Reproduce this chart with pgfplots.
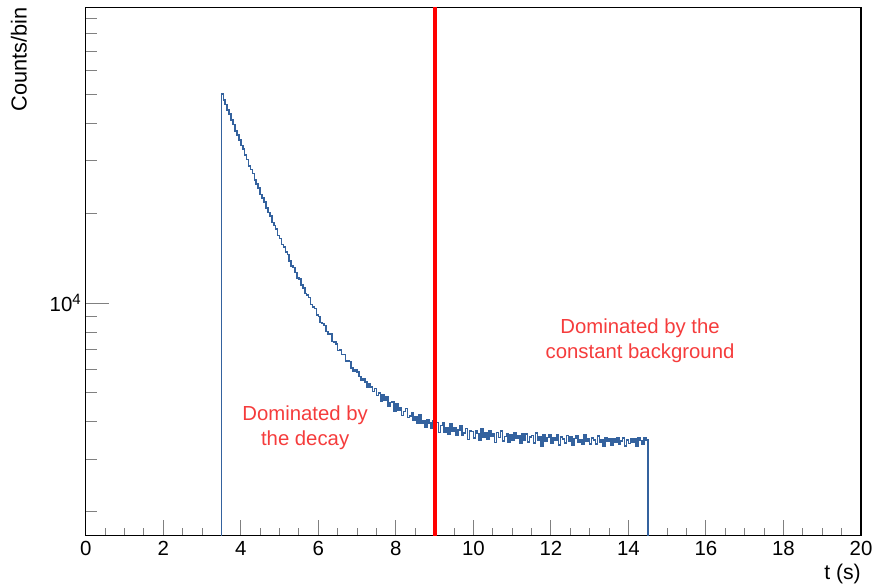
\documentclass[border=0pt]{standalone}
\usepackage{fontspec}
\setmainfont{Liberation Sans}
\usepackage{pgfplots}
\pgfplotsset{compat=1.18}
\definecolor{histblue}{RGB}{52,98,158}
\definecolor{txtred}{RGB}{245,60,60}
\begin{document}
\begin{tikzpicture}
\begin{axis}[
  name=ax,
  scale only axis,
  width=775bp, height=528bp,
  font=\fontsize{20.5}{24}\selectfont,
  /pgf/number format/assume math mode=true,
  xmin=0, xmax=20,
  ymode=log, ymin=1662, ymax=97900,
  xtick={0,2,...,20},
  minor x tick num=3,
  ytick={10000},
  yticklabels={10\textsuperscript{\fontsize{15}{15}\selectfont 4}},
  minor ytick={2000,3000,4000,5000,6000,7000,8000,9000,20000,30000,40000,50000,60000,70000,80000,90000},
  tick pos=left,
  tick align=inside,
  xtick style={/pgfplots/major tick length=16bp,/pgfplots/minor tick length=7.5bp, line width=0.9bp},
  ytick style={/pgfplots/major tick length=23bp,/pgfplots/minor tick length=11.7bp, line width=0.9bp},
  axis line style={line width=1.2bp},
  xticklabel style={yshift=-2bp},
  yticklabel style={xshift=-1bp},
  clip=true,
]
\addplot[const plot, color=histblue, line width=1.6bp] table {
x y
3.50 1000
3.50 50224
3.55 47875
3.60 46307
3.65 44357
3.70 43043
3.75 41060
3.80 39705
3.85 37697
3.90 36651
3.95 35207
4.00 33701
4.05 32780
4.10 31321
4.15 30304
4.20 28845
4.25 28049
4.30 27197
4.35 25883
4.40 25040
4.45 24287
4.50 23142
4.55 22503
4.60 21848
4.65 20797
4.70 20147
4.75 19598
4.80 18608
4.85 18227
4.90 17702
4.95 16873
5.00 16449
5.05 15718
5.10 15450
5.15 14813
5.20 14537
5.25 13821
5.30 13325
5.35 13156
5.40 12675
5.45 12141
5.50 12043
5.55 11490
5.60 11242
5.65 10768
5.70 10668
5.75 10430
5.80 9886
5.85 9683
5.90 9581
5.95 9140
6.00 9030
6.05 8610
6.10 8539
6.15 8418
6.20 8026
6.25 7892
6.30 7866
6.35 7438
6.40 7417
6.45 7304
6.50 6938
6.55 6958
6.60 6734
6.65 6726
6.70 6404
6.75 6388
6.80 6376
6.85 6060
6.90 5909
6.95 5972
7.00 5890
7.05 5672
7.10 5518
7.15 5598
7.20 5452
7.25 5240
7.30 5371
7.35 5245
7.40 5052
7.45 5173
7.50 4906
7.55 4992
7.60 4706
7.65 4932
7.70 4726
7.75 4852
7.80 4516
7.85 4646
7.90 4659
7.95 4329
8.00 4600
8.05 4378
8.10 4473
8.15 4195
8.20 4339
8.25 4439
8.30 4135
8.35 4193
8.40 4297
8.45 4057
8.50 4164
8.55 3957
8.60 4216
8.65 3966
8.70 4047
8.75 3829
8.80 4077
8.85 3966
8.90 3811
8.95 4047
9.00 3826
9.05 3978
9.10 3689
9.15 3894
9.20 3963
9.25 3693
9.30 3815
9.35 3631
9.40 3941
9.45 3725
9.50 3831
9.55 3598
9.60 3757
9.65 3866
9.70 3601
9.75 3676
9.80 3803
9.85 3488
9.90 3734
9.95 3709
10.00 3531
10.05 3744
10.10 3652
10.15 3475
10.20 3792
10.25 3564
10.30 3677
10.35 3501
10.40 3734
10.45 3576
10.50 3639
10.55 3413
10.60 3680
10.65 3540
10.70 3722
10.75 3446
10.80 3578
10.85 3642
10.90 3418
10.95 3618
11.00 3462
11.05 3680
11.10 3524
11.15 3589
11.20 3382
11.25 3634
11.30 3479
11.35 3646
11.40 3423
11.45 3556
11.50 3605
11.55 3399
11.60 3669
11.65 3480
11.70 3563
11.75 3323
11.80 3611
11.85 3439
11.90 3540
11.95 3623
12.00 3398
12.05 3550
12.10 3463
12.15 3631
12.20 3341
12.25 3560
12.30 3507
12.35 3404
12.40 3606
12.45 3435
12.50 3569
12.55 3346
12.60 3515
12.65 3581
12.70 3409
12.75 3493
12.80 3355
12.85 3625
12.90 3437
12.95 3520
13.00 3365
13.05 3534
13.10 3481
13.15 3377
13.20 3580
13.25 3408
13.30 3491
13.35 3320
13.40 3539
13.45 3435
13.50 3502
13.55 3347
13.60 3516
13.65 3412
13.70 3546
13.75 3375
13.80 3458
13.85 3525
13.90 3319
13.95 3471
14.00 3384
14.05 3519
14.10 3415
14.15 3499
14.20 3327
14.25 3547
14.30 3460
14.35 3357
14.40 3525
14.45 3473
14.50 3473
14.50 1000
};
\addplot[color=red, line width=4bp] coordinates {(9,1000) (9,200000)};
\node[txtred, align=center, font=\fontsize{20.4}{25}\selectfont] at (axis cs:14.3,7500) {Dominated by the\\constant background};
\node[txtred, align=center, font=\fontsize{20.4}{25}\selectfont] at (axis cs:5.66,3830) {Dominated by\\the decay};
\end{axis}
\node[rotate=90, anchor=base east, inner sep=0pt, font=\fontsize{21.8}{24}\selectfont] at ([xshift=-59bp]ax.north west) {Counts/bin};
\node[anchor=base east, inner sep=0pt, font=\fontsize{21.3}{24}\selectfont] at ([yshift=-44bp]ax.south east) {t (s)};
\pgfresetboundingbox
\path ([shift={(-85.7bp,-49.5bp)}]ax.south west) rectangle ([shift={(12bp,7.5bp)}]ax.north east);
\end{tikzpicture}
\end{document}
